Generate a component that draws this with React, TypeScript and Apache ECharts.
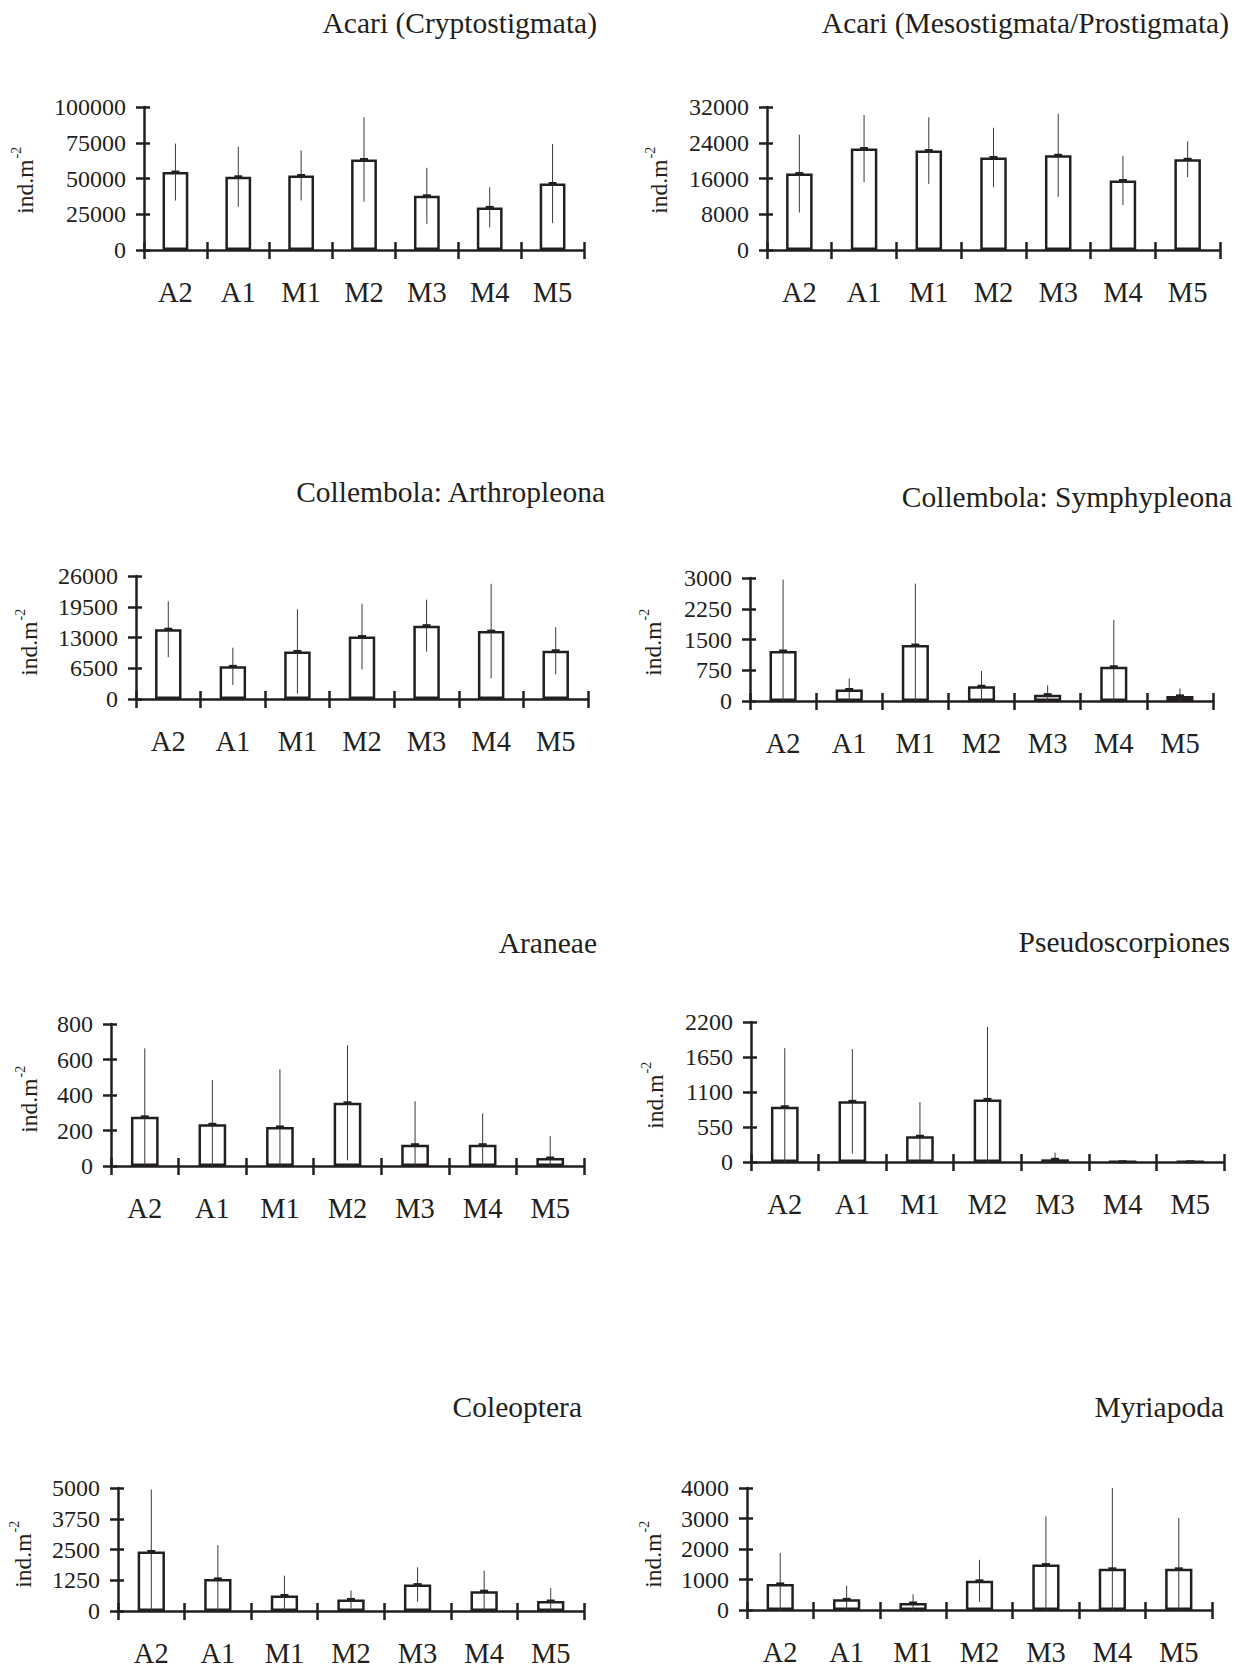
import React, { useEffect, useRef } from "react";
import * as echarts from "echarts";

const categories = ["A2", "A1", "M1", "M2", "M3", "M4", "M5"];

const titles = [
  "Acari (Cryptostigmata)",
  "Acari (Mesostigmata/Prostigmata)",
  "Collembola: Arthropleona",
  "Collembola: Symphypleona",
  "Araneae",
  "Pseudoscorpiones",
  "Coleoptera",
  "Myriapoda",
];

const cryptoMean = [54500, 51200, 52100, 63300, 37900, 29800, 46500];
const cryptoSd = [19900, 21000, 17400, 29500, 19600, 14000, 27600];
const mesoMean = [17100, 22700, 22250, 20700, 21200, 15550, 20300];
const mesoSd = [8700, 7500, 7450, 6650, 9300, 5500, 4000];
const arthroMean = [14750, 6900, 10050, 13200, 15500, 14350, 10200];
const arthroSd = [5900, 3950, 8900, 6950, 5500, 10000, 5000];
const symphyMean = [1220, 280, 1365, 360, 155, 835, 125];
const symphySd = [1740, 270, 1500, 370, 230, 1145, 180];
const araneaeMean = [277, 235, 220, 356, 120, 120, 45];
const araneaeSd = [386, 249, 324, 324, 245, 176, 123];
const pseudoMean = [868, 953, 405, 984, 42, 4, 4];
const pseudoSd = [921, 821, 537, 1137, 105, 2, 2];
const coleoMean = [2420, 1305, 630, 470, 1075, 805, 405];
const coleoSd = [2515, 1370, 805, 365, 700, 835, 525];
const myriaMean = [855, 350, 230, 955, 1490, 1350, 1350];
const myriaSd = [1010, 440, 285, 690, 1580, 2650, 1665];

const axisMax = [100000, 32000, 26000, 3000, 800, 2200, 5000, 4000];
const axisStep = [25000, 8000, 6500, 750, 200, 550, 1250, 1000];

const means = [cryptoMean, mesoMean, arthroMean, symphyMean, araneaeMean, pseudoMean, coleoMean, myriaMean];
const sds = [cryptoSd, mesoSd, arthroSd, symphySd, araneaeSd, pseudoSd, coleoSd, myriaSd];

// layout: grid [left, top, width, height], title [rightX, centerY], ylabel [cx, cy]
const layout = [
  { grid: [144, 107, 440, 143], title: [597, 23], ylab: [25, 180] },
  { grid: [767, 107, 453, 143], title: [1229, 23], ylab: [659, 180] },
  { grid: [136, 576, 452, 123], title: [605, 492], ylab: [29, 642] },
  { grid: [750, 578, 463, 123], title: [1232, 497], ylab: [653, 642] },
  { grid: [111, 1024, 473, 142], title: [597, 943], ylab: [29, 1099] },
  { grid: [751, 1022, 473, 140], title: [1230, 942], ylab: [655, 1095] },
  { grid: [118, 1488, 466, 124], title: [582, 1407], ylab: [23, 1554] },
  { grid: [747, 1488, 465, 122], title: [1224, 1407], ylab: [653, 1554] },
];

const INK = "#231f20";
const FONT = "Liberation Serif";

export default function App() {
  const ref = useRef<HTMLDivElement>(null);
  useEffect(() => {
    if (!ref.current) return;
    const chart = echarts.init(ref.current, null, { renderer: "svg" });
    const grid: any[] = [];
    const xAxis: any[] = [];
    const yAxis: any[] = [];
    const series: any[] = [];
    const graphic: any[] = [];
    layout.forEach((L, k) => {
      const [l, t, w, h] = L.grid;
      grid.push({ left: l, top: t, width: w, height: h, containLabel: false });
      const xBase = {
        type: "category",
        data: categories,
        gridIndex: k,
        position: "bottom",
        boundaryGap: true,
      };
      xAxis.push({
        ...xBase,
        axisLine: { show: true, lineStyle: { color: INK, width: 2.5 } },
        axisTick: { show: true, inside: false, length: 9, alignWithLabel: false, lineStyle: { color: INK, width: 2.5 } },
        axisLabel: { show: true, interval: 0, margin: 28, color: INK, fontFamily: FONT, fontSize: 28.5 },
        splitLine: { show: false },
      });
      xAxis.push({
        ...xBase,
        axisLine: { show: false },
        axisTick: { show: true, inside: true, length: 8, alignWithLabel: false, lineStyle: { color: INK, width: 2.5 } },
        axisLabel: { show: false },
        splitLine: { show: false },
      });
      const yBase = {
        type: "value",
        gridIndex: k,
        position: "left",
        min: 0,
        max: axisMax[k],
        interval: axisStep[k],
      };
      yAxis.push({
        ...yBase,
        axisLine: { show: true, lineStyle: { color: INK, width: 2.5 } },
        axisTick: { show: true, inside: false, length: 8, lineStyle: { color: INK, width: 2.5 } },
        axisLabel: { show: true, margin: 18, color: INK, fontFamily: FONT, fontSize: 24, formatter: (v: number) => String(v) },
        splitLine: { show: false },
      });
      yAxis.push({
        ...yBase,
        axisLine: { show: false },
        axisTick: { show: true, inside: true, length: 6, lineStyle: { color: INK, width: 2.5 } },
        axisLabel: { show: false },
        splitLine: { show: false },
      });
      series.push({
        type: "bar",
        xAxisIndex: 2 * k,
        yAxisIndex: 2 * k,
        data: means[k],
        barWidth: "41%",
        itemStyle: { color: "#ffffff", borderColor: INK, borderWidth: 2.5 },
        z: 2,
      });
      series.push({
        type: "custom",
        xAxisIndex: 2 * k,
        yAxisIndex: 2 * k,
        data: means[k].map((m, i) => [i, m, sds[k][i]]),
        encode: { x: 0, y: 1 },
        z: 3,
        renderItem: (params: any, api: any) => {
          const i = api.value(0);
          const m = api.value(1);
          const s = api.value(2);
          const top = api.coord([i, m + s]);
          const bot = api.coord([i, Math.max(0, m - s)]);
          const mid = api.coord([i, m]);
          return {
            type: "group",
            children: [
              {
                type: "line",
                shape: { x1: top[0], y1: top[1], x2: bot[0], y2: bot[1] },
                style: { stroke: "#3a3a3a", lineWidth: 1 },
              },
              {
                type: "line",
                shape: { x1: mid[0] - 4, y1: mid[1], x2: mid[0] + 4, y2: mid[1] },
                style: { stroke: INK, lineWidth: 3 },
              },
            ],
          };
        },
      });
      graphic.push({
        type: "text",
        x: L.title[0],
        y: L.title[1],
        style: {
          text: titles[k],
          fill: INK,
          fontFamily: FONT,
          fontSize: 29.5,
          textAlign: "right",
          textVerticalAlign: "middle",
        },
      });
      graphic.push({
        type: "group",
        x: L.ylab[0],
        y: L.ylab[1],
        rotation: Math.PI / 2,
        children: [
          {
            type: "text",
            x: 20.5,
            y: 0,
            style: { text: "ind.m", fill: INK, fontFamily: FONT, fontSize: 23.5, textAlign: "right", textVerticalAlign: "middle" },
          },
          {
            type: "text",
            x: 21.5,
            y: -9,
            style: { text: "-2", fill: INK, fontFamily: FONT, fontSize: 14, textAlign: "left", textVerticalAlign: "middle" },
          },
        ],
      });
    });
    chart.setOption({
      animation: false,
      backgroundColor: "#ffffff",
      grid,
      xAxis,
      yAxis,
      series,
      graphic,
    });
    return () => chart.dispose();
  }, []);
  return (
    <div
      ref={ref}
      style={{ position: "absolute", left: 0, top: 0, width: 1238, height: 1668, background: "#fff" }}
    />
  );
}
